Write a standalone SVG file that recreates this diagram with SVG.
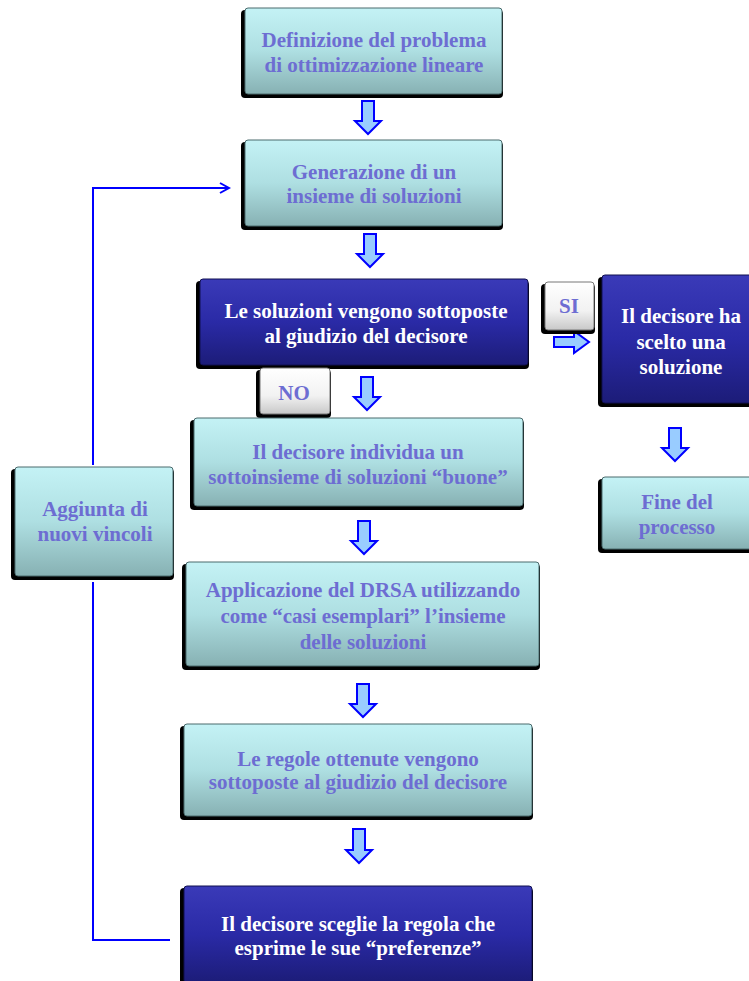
<svg xmlns="http://www.w3.org/2000/svg" width="749" height="981" viewBox="0 0 749 981">
<defs>
<linearGradient id="gl" x1="0" y1="0" x2="0" y2="1">
<stop offset="0" stop-color="#c4f2f5"/>
<stop offset="0.5" stop-color="#aedfe2"/>
<stop offset="1" stop-color="#87b1b3"/>
</linearGradient>
<linearGradient id="gd" x1="0" y1="0" x2="0" y2="1">
<stop offset="0" stop-color="#3a3ab8"/>
<stop offset="0.5" stop-color="#2a2aa6"/>
<stop offset="1" stop-color="#1c1c78"/>
</linearGradient>
<linearGradient id="gw" x1="0" y1="0" x2="0" y2="1">
<stop offset="0" stop-color="#ffffff"/>
<stop offset="0.6" stop-color="#f2f2f2"/>
<stop offset="1" stop-color="#c8c8c8"/>
</linearGradient>
<marker id="open" markerWidth="12" markerHeight="12" refX="10" refY="6" orient="auto" markerUnits="userSpaceOnUse">
<path d="M1,1 L10,6 L1,11" fill="none" stroke="#0000ff" stroke-width="2"/>
</marker>
</defs>
<style>
.sh{fill:#000000}
.lt{fill:url(#gl);stroke:#4a6a6c;stroke-width:1}
.dk{fill:url(#gd);stroke:#101050;stroke-width:1}
.wt{fill:url(#gw);stroke:#777;stroke-width:1}
text{font-family:"Liberation Serif","Times New Roman",serif;font-weight:bold;font-size:21px;text-anchor:middle}
.tl{fill:#6d6dd2}
.tw{fill:#ffffff}
.ar{fill:#99ccff;stroke:#0000ff;stroke-width:2;stroke-linejoin:miter}
.ln{fill:none;stroke:#0000ff;stroke-width:2}
</style>

<g id="connectors">
<path class="ln" d="M93,465 L93,188 L229,188" marker-end="url(#open)"/>
<path class="ln" d="M93,582 L93,940 L170,940"/>
<path class="ar" d="M362,101 h12 v20 h7 l-13,13 l-13,-13 h7 z"/>
<path class="ar" d="M364,234 h12 v20 h7 l-13,13 l-13,-13 h7 z"/>
<path class="ar" d="M361,377 h12 v20 h7 l-13,13 l-13,-13 h7 z"/>
<path class="ar" d="M358,521 h12 v20 h7 l-13,13 l-13,-13 h7 z"/>
<path class="ar" d="M357,684 h12 v20 h7 l-13,13 l-13,-13 h7 z"/>
<path class="ar" d="M353,829 h12 v21 h7 l-13,13 l-13,-13 h7 z"/>
<path class="ar" d="M669,428 h12 v20 h7 l-13,13 l-13,-13 h7 z"/>
<path class="ar" d="M554,337 h20 v-6 l15,11 l-15,11 v-6 h-20 z"/>
</g>

<g id="n1">
<rect class="sh" x="241" y="10" width="262" height="88" rx="4"/>
<rect class="lt" x="245" y="8" width="257" height="86" rx="3"/>
<text class="tl" x="374" y="47">Definizione del problema</text>
<text class="tl" x="374" y="72">di ottimizzazione lineare</text>
</g>

<g id="n2">
<rect class="sh" x="241" y="142" width="262" height="88" rx="4"/>
<rect class="lt" x="245" y="140" width="257" height="86" rx="3"/>
<text class="tl" x="374" y="179">Generazione di un</text>
<text class="tl" x="374" y="203">insieme di soluzioni</text>
</g>

<g id="n3">
<rect class="sh" x="196" y="281" width="333" height="88" rx="4"/>
<rect class="dk" x="200" y="279" width="328" height="86" rx="3"/>
<text class="tw" x="366" y="318">Le soluzioni vengono sottoposte</text>
<text class="tw" x="366" y="343">al giudizio del decisore</text>
</g>

<g id="si">
<rect class="sh" x="541" y="284" width="54" height="50" rx="4"/>
<rect class="wt" x="545" y="282" width="49" height="48" rx="3"/>
<text class="tl" x="569" y="313">SI</text>
</g>

<g id="n4">
<rect class="sh" x="598" y="277" width="155" height="130" rx="4"/>
<rect class="dk" x="602" y="275" width="150" height="128" rx="3"/>
<text class="tw" x="681" y="323">Il decisore ha</text>
<text class="tw" x="681" y="349">scelto una</text>
<text class="tw" x="681" y="374">soluzione</text>
</g>

<g id="no">
<rect class="sh" x="256" y="370" width="75" height="48" rx="4"/>
<rect class="wt" x="260" y="368" width="70" height="46" rx="3"/>
<text class="tl" x="294" y="400">NO</text>
</g>

<g id="n5">
<rect class="sh" x="190" y="420" width="334" height="90" rx="4"/>
<rect class="lt" x="194" y="418" width="329" height="88" rx="3"/>
<text class="tl" x="358" y="459">Il decisore individua un</text>
<text class="tl" x="358" y="484">sottoinsieme di soluzioni “buone”</text>
</g>

<g id="n6">
<rect class="sh" x="598" y="479" width="155" height="74" rx="4"/>
<rect class="lt" x="602" y="477" width="150" height="72" rx="3"/>
<text class="tl" x="677" y="509">Fine del</text>
<text class="tl" x="677" y="534">processo</text>
</g>

<g id="n7">
<rect class="sh" x="11" y="469" width="163" height="111" rx="4"/>
<rect class="lt" x="15" y="467" width="158" height="109" rx="3"/>
<text class="tl" x="95" y="516">Aggiunta di</text>
<text class="tl" x="95" y="541">nuovi vincoli</text>
</g>

<g id="n8">
<rect class="sh" x="182" y="564" width="358" height="106" rx="4"/>
<rect class="lt" x="186" y="562" width="353" height="104" rx="3"/>
<text class="tl" x="363" y="597">Applicazione del DRSA utilizzando</text>
<text class="tl" x="363" y="623">come “casi esemplari” l’insieme</text>
<text class="tl" x="363" y="649">delle soluzioni</text>
</g>

<g id="n9">
<rect class="sh" x="180" y="726" width="353" height="94" rx="4"/>
<rect class="lt" x="184" y="724" width="348" height="92" rx="3"/>
<text class="tl" x="358" y="766">Le regole ottenute vengono</text>
<text class="tl" x="358" y="789">sottoposte al giudizio del decisore</text>
</g>

<g id="n10">
<rect class="sh" x="180" y="888" width="353" height="98" rx="4"/>
<rect class="dk" x="184" y="886" width="348" height="97" rx="3"/>
<text class="tw" x="358" y="931">Il decisore sceglie la regola che</text>
<text class="tw" x="358" y="955">esprime le sue “preferenze”</text>
</g>
</svg>
